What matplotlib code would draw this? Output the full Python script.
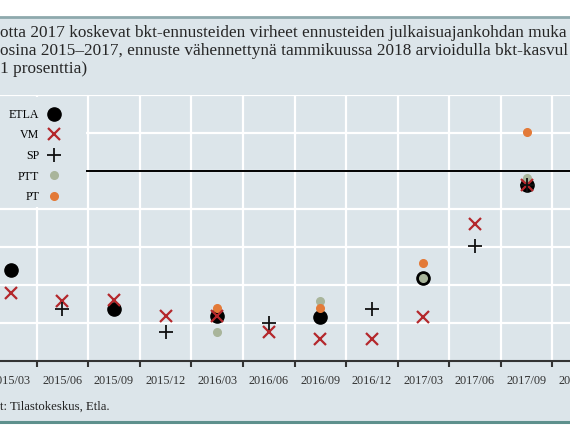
import numpy as np
import matplotlib
matplotlib.use("Agg")
import matplotlib.pyplot as plt
from matplotlib.patches import Rectangle

nan = np.nan

categories = ["2015/03", "2015/06", "2015/09", "2015/12", "2016/03", "2016/06",
              "2016/09", "2016/12", "2017/03", "2017/06", "2017/09", "2017/12"]

etla = [-1.30, nan, -1.82, nan, -1.91, nan, -1.92, nan, -1.41, nan, -0.18, nan]
vm = [-1.61, -1.71, -1.70, -1.91, -1.91, -2.12, -2.21, -2.21, -1.92, -0.70, -0.18, nan]
sp = [nan, -1.82, nan, -2.12, nan, -2.00, nan, -1.82, nan, -0.99, -0.18, nan]
ptt = [nan, nan, nan, nan, -2.12, nan, -1.71, nan, -1.41, nan, -0.09, nan]
pt = [nan, nan, nan, nan, -1.80, nan, -1.80, nan, -1.21, nan, 0.51, nan]

title_lines = [
    "otta 2017 koskevat bkt-ennusteiden virheet ennusteiden julkaisuajankohdan muka",
    "osina 2015\u20132017, ennuste vähennettynä tammikuussa 2018 arvioidulla bkt-kasvul",
    "1 prosenttia)",
]
source = "t: Tilastokeskus, Etla."

BG = "#dce5ea"
serif = ["Liberation Serif", "DejaVu Serif"]
plt.rcParams["font.family"] = serif

W, H = 570, 428
fig = plt.figure(figsize=(W / 100, H / 100), dpi=100, facecolor="white")

# panel background with border lines
fig.patches.append(Rectangle((0, (H - 421) / H), 1, (421 - 17) / H, transform=fig.transFigure,
                             facecolor=BG, edgecolor="none", zorder=-10))
fig.add_artist(plt.Line2D([0, 1], [(H - 17) / H] * 2, transform=fig.transFigure,
                          color="#8ea9ad", lw=2))
fig.add_artist(plt.Line2D([0, 1], [(H - 422) / H] * 2, transform=fig.transFigure,
                          color="#5e908d", lw=2.2))

for i, line in enumerate(title_lines):
    fig.text(0, (H - 33 - 18 * i) / H, line, fontsize=12.4, color="#262626", va="center", ha="left")
fig.text(0, (H - 407) / H, source, fontsize=9.2, color="#222222", va="center", ha="left")

# axes run past the image edges (cropped look)
x_left, x_right = -15, 604
y_top, y_bot = 95, 361
ax = fig.add_axes([x_left / W, (H - y_bot) / H, (x_right - x_left) / W, (y_bot - y_top) / H])
ax.set_facecolor(BG)

x = np.arange(len(categories))
ax.set_xlim(-0.5, len(categories) - 0.5)
ax.set_ylim(-2.5, 1.0)

for yv in np.arange(-2.0, 1.01, 0.5):
    ax.axhline(yv, color="white", lw=1.6, zorder=1)
for xv in x[:-1] + 0.5:
    ax.axvline(xv, color="white", lw=1.6, zorder=1)
ax.axhline(0, color="black", lw=1.4, zorder=2)

ax.plot(x, etla, "o", color="black", ms=9.5, zorder=3, label="ETLA")
ax.plot(x, ptt, "o", color="#a9b59b", ms=5.5, zorder=4, label="PTT")
ax.plot(x, pt, "o", color="#e37a38", ms=5.5, zorder=4, label="PT")
ax.plot(x, vm, "x", color="#b4282c", ms=8.5, mew=1.6, zorder=5, label="VM")
ax.plot(x, sp, "+", color="#111111", ms=10, mew=1.3, zorder=6, label="SP")

# legend panel hiding the grid
ax.add_patch(Rectangle((-0.5, -0.47), 1.95, 1.44, facecolor=BG, edgecolor="none", zorder=7))
h, l = ax.get_legend_handles_labels()
order = [l.index(n) for n in ["ETLA", "VM", "SP", "PTT", "PT"]]
leg = ax.legend([h[i] for i in order], [l[i] for i in order], loc="upper left",
                bbox_to_anchor=(19 / (x_right - x_left), 1.0 - 9 / (y_bot - y_top)),
                frameon=False, markerfirst=False, fontsize=8.6, labelspacing=0.72,
                handlelength=1.2, handletextpad=0.6, borderaxespad=0)
leg.set_zorder(8)

for s in ["top", "left", "right"]:
    ax.spines[s].set_visible(False)
ax.spines["bottom"].set_color("#333333")
ax.spines["bottom"].set_linewidth(1.5)
ax.set_yticks([])
ax.set_xticks(x)
ax.set_xticklabels(categories, fontsize=8.8, color="#333333")
ax.tick_params(axis="x", which="major", length=0, pad=10)
ax.set_xticks(x[:-1] + 0.5, minor=True)
ax.tick_params(axis="x", which="minor", length=4, width=1.5, color="#333333", direction="out")

fig.savefig("out.png", dpi=100, facecolor="white")
